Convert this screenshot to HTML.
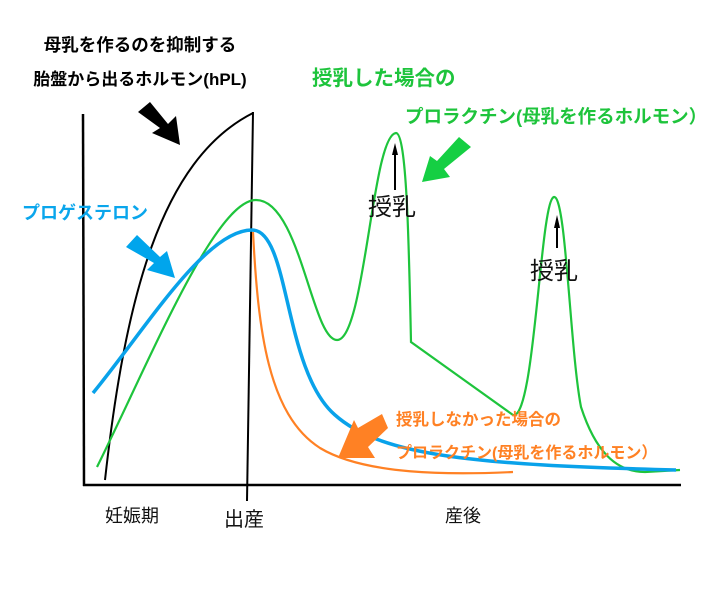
<!DOCTYPE html>
<html><head><meta charset="utf-8"><style>
html,body{margin:0;padding:0;background:#fff;}
svg{display:block;}
text{font-family:"Liberation Sans","Noto Sans CJK JP",sans-serif;}
</style></head><body>
<svg width="710" height="601" viewBox="0 0 710 601" xmlns="http://www.w3.org/2000/svg">
<rect width="710" height="601" fill="#fff"/>
<line x1="83" y1="114" x2="84" y2="486" stroke="#000" stroke-width="2.5"/>
<line x1="83" y1="485" x2="681" y2="485" stroke="#000" stroke-width="2.5"/>
<line x1="253" y1="112" x2="247" y2="501" stroke="#000" stroke-width="2"/>
<path d="M105,480 C125,300 160,160 253,113" fill="none" stroke="#000" stroke-width="2"/>
<path d="M97,467 C150,360 215,200 256,200 C300,200 312,340 337,340 C365,340 372,135 396,133 C407,133 409,250 411,342 L513,415 C535,420 540,200 554,197 C566,195 570,350 581,407 C595,450 615,472 645,472 L680,470" fill="none" stroke="#1ec43c" stroke-width="2.2"/>
<path d="M253,232 C258,330 268,415 320,448 C365,475 450,475 513,472" fill="none" stroke="#ff8124" stroke-width="2.2"/>
<path d="M93,393 C145,330 205,230 252,230 C290,230 283,370 335,415 C380,455 470,465 676,470" fill="none" stroke="#09a2ea" stroke-width="3.5"/>
<polygon points="138,112 150,102 168,124 176,116 180,145 152,133 160,128" fill="#000"/>
<polygon points="126,247 137,235 160,257 167,251 175,278 147,270 154,263" fill="#00a5ec"/>
<polygon points="471,147 459,137 437,161 430,156 422,182 450,177 444,169" fill="#15cf43"/>
<polygon points="388,428 382,414 358,428 354,420 338,458 375,458 368,447" fill="#ff8124"/>
<line x1="395" y1="190" x2="395" y2="148" stroke="#000" stroke-width="2"/>
<polygon points="395,143 392,155 398,155" fill="#000"/>
<line x1="557" y1="248" x2="557" y2="222" stroke="#000" stroke-width="2"/>
<polygon points="557,215 554,228 560,228" fill="#000"/>
<text x="140" y="51" font-size="17.5" font-weight="bold" text-anchor="middle" fill="#000">母乳を作るのを抑制する</text>
<text x="140" y="85" font-size="17" font-weight="bold" text-anchor="middle" fill="#000">胎盤から出るホルモン(hPL)</text>
<text x="312" y="85" font-size="20.5" font-weight="bold" fill="#1ec43c">授乳した場合の</text>
<text x="405" y="123" font-size="18.5" font-weight="bold" fill="#1ec43c">プロラクチン(母乳を作るホルモン）</text>
<text x="22" y="219" font-size="18" font-weight="bold" fill="#0aa6ec">プロゲステロン</text>
<text x="368" y="215" font-size="24" fill="#111">授乳</text>
<text x="530" y="279" font-size="24" fill="#111">授乳</text>
<text x="396" y="425" font-size="16.5" font-weight="bold" fill="#ff8124">授乳しなかった場合の</text>
<text x="396" y="458" font-size="16" font-weight="bold" fill="#ff8124">プロラクチン(母乳を作るホルモン）</text>
<text x="105" y="522" font-size="18" fill="#111">妊娠期</text>
<text x="224" y="526" font-size="20" fill="#111">出産</text>
<text x="445" y="522" font-size="18" fill="#111">産後</text>
</svg>
</body></html>
